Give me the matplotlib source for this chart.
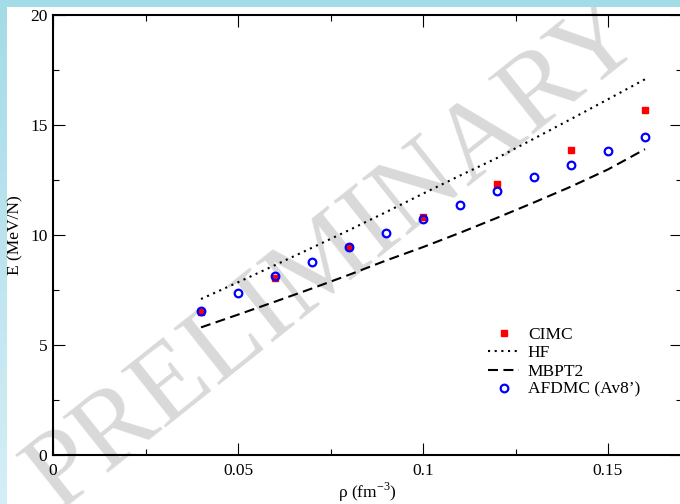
import numpy as np
import matplotlib
matplotlib.use("Agg")
import matplotlib.pyplot as plt
from matplotlib.ticker import MultipleLocator
from matplotlib.colors import LinearSegmentedColormap

plt.rcParams['font.family'] = ['Liberation Serif', 'DejaVu Serif']
plt.rcParams['mathtext.fontset'] = 'custom'
plt.rcParams['mathtext.rm'] = 'Liberation Serif'

# ---- data ----
rho_cimc = [0.04, 0.06, 0.08, 0.10, 0.12, 0.14, 0.16]
e_cimc = [6.50, 8.06, 9.45, 10.83, 12.30, 13.88, 15.68]

rho_afdmc = [0.04, 0.05, 0.06, 0.07, 0.08, 0.09, 0.10, 0.11, 0.12, 0.13, 0.14, 0.15, 0.16]
e_afdmc = [6.55, 7.35, 8.12, 8.79, 9.45, 10.10, 10.73, 11.35, 11.98, 12.64, 13.20, 13.83, 14.45]

rho_line = [0.04, 0.05, 0.06, 0.07, 0.08, 0.09, 0.10, 0.11, 0.12, 0.13, 0.14, 0.15, 0.16]
e_hf = [7.09, 7.85, 8.63, 9.42, 10.22, 11.04, 11.88, 12.70, 13.50, 14.38, 15.27, 16.17, 17.08]
e_mbpt2 = [5.80, 6.38, 6.97, 7.57, 8.19, 8.84, 9.45, 10.10, 10.78, 11.48, 12.20, 12.98, 13.90]

W, H = 680, 504
fig = plt.figure(figsize=(W/100, H/100), dpi=100)
fig.patch.set_facecolor('white')

# slide background bands
band_top = fig.add_axes([0, 1 - 7/H, 1, 7/H])
band_top.set_axis_off()
band_top.add_patch(plt.Rectangle((0, 0), 1, 1, color='#a3dbe6', transform=band_top.transAxes))
band_left = fig.add_axes([0, 0, 7/W, 1])
cmap = LinearSegmentedColormap.from_list('g', ['#d5eef7', '#a3dbe6'])
band_left.imshow(np.linspace(0, 1, 256).reshape(-1, 1), aspect='auto', cmap=cmap, origin='lower',
                 extent=[0, 1, 0, 1])
band_left.set_axis_off()

ax = fig.add_axes([53/W, (H-455)/H, (682-53)/W, (455-15)/H])
ax.set_facecolor('none')

# watermark
fig.text(336/W, 1 - 256/H, 'PRELIMINARY', fontsize=80, color='#d9d9d9', rotation=38.5,
         ha='center', va='center', zorder=-1, family='Liberation Serif')

ax.plot(rho_line, e_hf, color='black', lw=1.5, linestyle=(0, (1, 2.2)), label='HF', zorder=2)
ax.plot(rho_line, e_mbpt2, color='black', lw=1.5, linestyle=(0, (4.8, 2.6)), label='MBPT2', zorder=2)
ax.plot(rho_cimc, e_cimc, linestyle='none', marker='s', ms=5, color='red', mec='red', label='CIMC', zorder=3)
ax.plot(rho_afdmc, e_afdmc, linestyle='none', marker='o', ms=5.5, mfc='none', mec='blue', mew=1.6,
        label='AFDMC (Av8\u2019)', zorder=4)

ax.set_xlim(0, 0.17)
ax.set_ylim(0, 20)
ax.xaxis.set_minor_locator(MultipleLocator(0.025))
ax.yaxis.set_minor_locator(MultipleLocator(2.5))
ax.set_xticks([0, 0.05, 0.1, 0.15])
ax.set_xticklabels(['0', '0.05', '0.1', '0.15'])
ax.set_yticks([0, 5, 10, 15, 20])
ax.set_yticklabels(['0', '5', '10', '15', '20'])
ax.tick_params(which='both', direction='in', top=True, right=True, width=0.8, labelsize=12.5)
ax.tick_params(which='major', length=8.6)
ax.tick_params(which='minor', length=4.3)
ax.tick_params(axis='x', pad=6)
ax.tick_params(axis='y', pad=4)
for s in ax.spines.values():
    s.set_linewidth(1.5)

ax.set_xlabel(r'ρ (fm$^{\mathregular{-3}}$)', fontsize=12.5, labelpad=1)
ax.set_ylabel('E (MeV/N)', fontsize=12.5, labelpad=5)

h, l = ax.get_legend_handles_labels()
order = [2, 0, 1, 3]
leg = ax.legend([h[i] for i in order], [l[i] for i in order], loc='upper left',
                bbox_to_anchor=(488/W, 1 - 327/H), bbox_transform=fig.transFigure,
                frameon=False, fontsize=12.5, borderpad=0, borderaxespad=0,
                handlelength=1.8, handletextpad=0.5, labelspacing=0.12, numpoints=1)

fig.savefig('out.png', dpi=100)
